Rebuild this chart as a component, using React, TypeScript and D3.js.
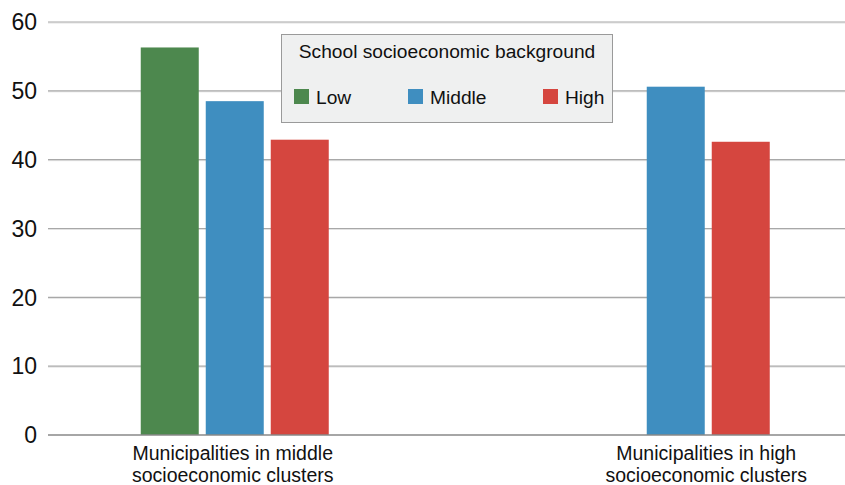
import React from "react";
import * as d3 from "d3";

const categories = [
  ["Municipalities in middle", "socioeconomic clusters"],
  ["Municipalities in high", "socioeconomic clusters"],
];
const seriesNames = ["Low", "Middle", "High"];
const seriesColors = ["#4d884e", "#3f8ec0", "#d5463f"];
const lowValues: (number | null)[] = [56.3, null];
const middleValues: (number | null)[] = [48.5, 50.6];
const highValues: (number | null)[] = [42.9, 42.6];
const yTicks = [0, 10, 20, 30, 40, 50, 60];
const legendTitle = "School socioeconomic background";

const W = 845;
const H = 485;
const FONT = "'Liberation Sans', Arial, sans-serif";

export default function App() {
  const y = d3.scaleLinear().domain([0, 60]).range([435, 22]);
  const x = d3.scaleBand<number>().domain([0, 1]).range([-2, 945]).padding(0);
  const allSeries = [lowValues, middleValues, highValues];
  const barW = 58;
  const gap = 7;
  const plotLeft = 48;

  return (
    <svg width={W} height={H} style={{ position: "absolute", left: 0, top: 0 }}>
      <rect x={0} y={0} width={W} height={H} fill="#fff" />
      {yTicks.map((t) => (
        <g key={t}>
          {t !== 0 && (
            <>
              <line x1={plotLeft} x2={W} y1={y(t) + 1} y2={y(t) + 1} stroke="#e2e2e2" strokeWidth={1} />
              <line x1={plotLeft} x2={W} y1={y(t)} y2={y(t)} stroke="#a8a8a8" strokeWidth={1.2} />
            </>
          )}
          <text x={37} y={y(t)} dy="0.36em" textAnchor="end" fontFamily={FONT} fontSize={23} fill="#111">
            {t}
          </text>
        </g>
      ))}
      {categories.map((cat, ci) => {
        const present = allSeries.map((s, si) => ({ v: s[ci], si })).filter((d) => d.v != null);
        const n = present.length;
        const total = n * barW + (n - 1) * gap;
        const center = (x(ci) as number) + x.bandwidth() / 2;
        const inner = d3
          .scaleBand<number>()
          .domain(present.map((d) => d.si))
          .range([center - total / 2, center + total / 2])
          .paddingInner(gap / (barW + gap));
        return (
          <g key={ci}>
            {present.map((d) => (
              <rect
                key={d.si}
                x={inner(d.si)}
                y={y(d.v as number)}
                width={inner.bandwidth()}
                height={y(0) - y(d.v as number)}
                fill={seriesColors[d.si]}
              />
            ))}
            {cat.map((line, li) => (
              <text
                key={li}
                x={center - 2}
                y={460 + li * 22}
                textAnchor="middle"
                fontFamily={FONT}
                fontSize={19.5}
                fill="#111"
              >
                {line}
              </text>
            ))}
          </g>
        );
      })}
      <line x1={plotLeft} x2={W} y1={y(0)} y2={y(0)} stroke="#888" strokeWidth={1.5} />
      <g>
        <rect x={281.5} y={34.5} width={331} height={88} fill="#eff0f0" stroke="#9a9a9a" strokeWidth={1} />
        <text x={447} y={58} textAnchor="middle" fontFamily={FONT} fontSize={19.2} fill="#111">
          {legendTitle}
        </text>
        {seriesNames.map((name, i) => {
          const sx = [294, 408, 543][i];
          return (
            <g key={name}>
              <rect x={sx} y={89} width={15} height={15} fill={seriesColors[i]} />
              <text x={sx + 22} y={104} fontFamily={FONT} fontSize={19.2} fill="#111">
                {name}
              </text>
            </g>
          );
        })}
      </g>
    </svg>
  );
}
